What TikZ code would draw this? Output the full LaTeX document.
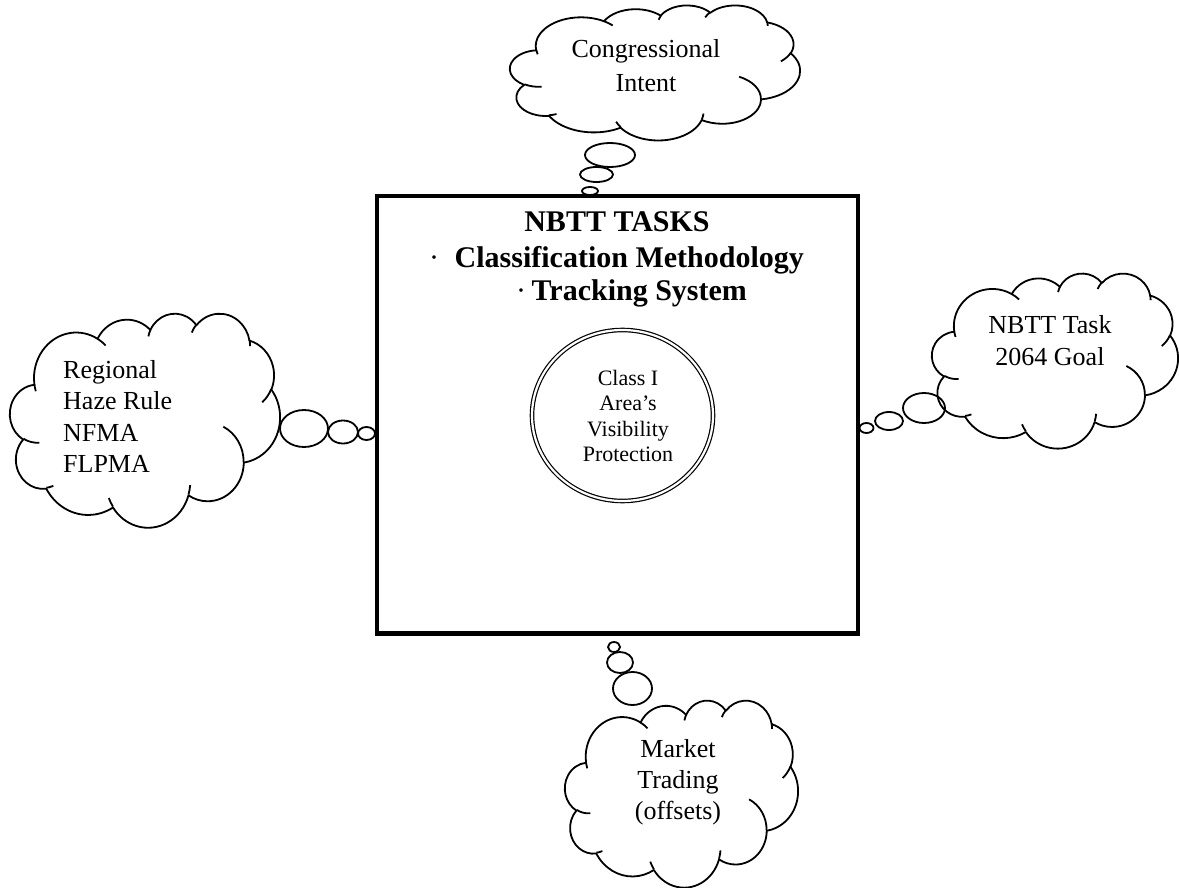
\documentclass[tikz,border=0pt]{standalone}
\usepackage{fontspec}
\setmainfont{Liberation Serif}
\usetikzlibrary{shapes.geometric}
% arc of the Office cloud: wR hR start-angle sweep (visual angles)
\newcommand\oarc[4]{\pgfextra{%
  \pgfmathparse{atan2((#1)*sin(#3),(#2)*cos(#3))}\xdef\oaA{\pgfmathresult}%
  \pgfmathparse{atan2((#1)*sin((#3)+(#4)),(#2)*cos((#3)+(#4)))}\xdef\oaB{\pgfmathresult}%
  \pgfmathparse{\oaB-\oaA}\xdef\oaD{\pgfmathresult}%
  \pgfmathparse{\oaD-360*round((\oaD-(#4))/360)}\xdef\oaD{\pgfmathresult}%
  \pgfmathparse{\oaA+\oaD}\xdef\oaE{\pgfmathresult}%
 } arc[start angle=\oaA, end angle=\oaE, x radius=#1, y radius=#2]}
\newcommand\cloudoutline{(39.00,143.70)
 \oarc{67.53}{91.90}{-190.4875}{123.7805}
 \oarc{53.33}{72.67}{-144.1024}{89.9452}
 \oarc{43.65}{59.45}{-145.8079}{99.7230}
 \oarc{48.57}{65.95}{-130.9861}{117.2417}
 \oarc{53.33}{72.73}{-78.7089}{109.0269}
 \oarc{67.75}{92.20}{-46.2673}{130.2690}
 \oarc{57.85}{78.67}{0.6250}{114.0333}
 \oarc{67.52}{92.15}{22.4516}{115.1726}
 \oarc{77.20}{105.43}{66.2426}{75.7110}
 \oarc{43.60}{59.18}{-274.9421}{146.7356}
 \oarc{43.45}{59.45}{-246.8285}{152.5189} -- cycle}
\newcommand\cloudhooks{%
 (46.93,261.77) \oarc{43.45}{59.45}{86.7420}{26.4295}
 (69.28,348.99) \oarc{43.60}{59.18}{73.6105}{11.4475}
 (164.78,390.90) \oarc{67.52}{92.15}{137.6242}{14.0811}
 (288.27,347.51) \oarc{67.52}{92.15}{6.4533}{15.9984}
 (341.29,229.54) \oarc{57.85}{78.67}{-70.2924}{70.9174}
 (417.98,153.54) \oarc{53.33}{72.73}{30.3180}{27.7515}
 (383.24,54.26) \oarc{48.57}{65.95}{-13.7443}{14.8589}
 (290.78,39.52) \oarc{48.57}{65.95}{-149.1815}{18.1954}
 (221.41,47.20) \oarc{43.65}{59.45}{-163.4943}{17.6864}
 (140.00,51.92) \oarc{67.53}{91.90}{-66.7070}{12.3194}
 (41.27,157.89) \oarc{67.53}{91.90}{157.6544}{11.8582}}
\newcommand\officecloud[4]{%
 \begin{scope}[shift={(#1,#2)}, xscale={(#3-#1)/432}, yscale={(#4-#2)/432}]
  \draw[cloudline] \cloudoutline;
  \draw[cloudline] \cloudhooks;
 \end{scope}}
\begin{document}
\begin{tikzpicture}[x=1pt,y=-1pt,
  cloudline/.style={line width=1.8pt, line join=round},
  bubble/.style={line width=1.8pt},
  boxtext/.style={font=\fontsize{30}{36}\selectfont\bfseries, inner sep=0pt},
  ctext/.style={inner sep=0pt, anchor=base}]
\useasboundingbox[fill=white] (0,0) rectangle (1179,888);

% central box
\node (box) [draw, line width=4.5pt, minimum width=481pt, minimum height=437pt, inner sep=0pt] at (617.5,414.75) {};
\node (title) [boxtext, anchor=base] at (617,232) {NBTT TASKS};
\node (task1) [boxtext, anchor=base west] at (429,267) {\mdseries·\hspace{15.5pt}\bfseries Classification Methodology};
\node (task2) [boxtext, anchor=base west] at (516,300) {\mdseries·\hspace{5.5pt}\bfseries Tracking System};

% central ellipse
\node (area) [ellipse, draw, double, line width=1.2pt, double distance=2.2pt, minimum width=181pt, minimum height=171pt, inner sep=0pt] at (622.5,415.5) {};
\node (areatext) [ctext, font=\fontsize{22}{25.5}\selectfont] at (628,385)
  {\begin{tabular}[t]{@{}c@{}}Class I\\Area’s\\Visibility\\Protection\end{tabular}};

% top cloud
\officecloud{510}{5}{800}{140}
\node (congress) [ctext, font=\fontsize{26}{34}\selectfont] at (646,58)
  {\begin{tabular}[t]{@{}c@{}}Congressional\\Intent\end{tabular}};
\draw[bubble] (610,155) ellipse [x radius=25, y radius=12];
\draw[bubble] (596.5,174.5) ellipse [x radius=16.5, y radius=7.5];
\draw[bubble] (590,191) ellipse [x radius=8, y radius=4];

% left cloud
\officecloud{10}{313}{280}{527}
\node (haze) [inner sep=0pt, anchor=base west, font=\fontsize{26}{31.5}\selectfont] at (63,378)
  {\begin{tabular}[t]{@{}l@{}}Regional\\Haze Rule\\NFMA\\FLPMA\end{tabular}};
\draw[bubble] (304,428.5) ellipse [x radius=24, y radius=18.5];
\draw[bubble] (343,432) ellipse [x radius=15, y radius=11.5];
\draw[bubble] (366.5,433.5) ellipse [x radius=8.5, y radius=6.5];

% right cloud
\officecloud{932}{273}{1178}{448}
\node (goal) [ctext, font=\fontsize{26}{32}\selectfont] at (1050,333)
  {\begin{tabular}[t]{@{}c@{}}NBTT Task\\2064 Goal\end{tabular}};
\draw[bubble] (866.5,428) ellipse [x radius=7, y radius=5];
\draw[bubble] (889,421) ellipse [x radius=14, y radius=9];
\draw[bubble] (924,408) ellipse [x radius=21, y radius=15];

% bottom cloud
\officecloud{565}{700}{798}{887}
\node (market) [ctext, font=\fontsize{26}{31}\selectfont] at (678,757)
  {\begin{tabular}[t]{@{}c@{}}Market\\Trading\\(offsets)\end{tabular}};
\draw[bubble] (614,647) ellipse [x radius=6, y radius=5];
\draw[bubble] (620,662.5) ellipse [x radius=13, y radius=10.5];
\draw[bubble] (632.5,688.5) ellipse [x radius=19.5, y radius=16.5];
\end{tikzpicture}
\end{document}
